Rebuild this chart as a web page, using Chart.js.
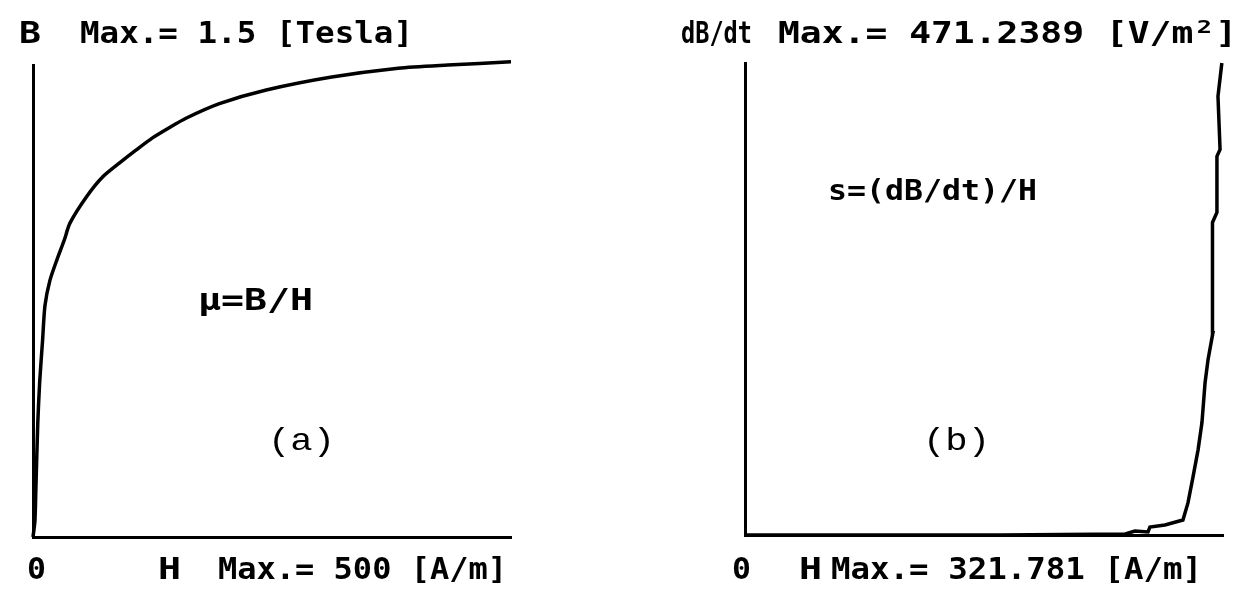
<!DOCTYPE html>
<html>
<head>
    <title>B-H curve and dB/dt</title>
    <script src="https://cdn.jsdelivr.net/npm/chart.js"></script>
    <style>
        body {
            background-color: white;
            margin: 0;
            width: 1252px;
            height: 589px;
            position: relative;
            overflow: hidden;
        }

        canvas {
            position: absolute;
            top: 0;
        }

        #chartA { left: 0; }
        #chartB { left: 626px; }
    </style>
</head>
<body>
    <canvas id="chartA" width="626" height="589"></canvas>
    <canvas id="chartB" width="626" height="589"></canvas>

    <script>
        // (a) magnetisation curve, H in A/m, B in Tesla
        const hA = [0, 2, 3, 5, 7, 10, 12.5, 17.7, 25, 33, 38.5, 56, 73, 90.6, 108, 125, 143, 160, 195, 244, 312.5, 382, 434, 500];
        const bA = [0, 0.05, 0.15, 0.36, 0.49, 0.62, 0.73, 0.81, 0.875, 0.94, 0.99, 1.074, 1.137, 1.181, 1.222, 1.26, 1.293, 1.322, 1.368, 1.411, 1.452, 1.48, 1.49, 1.5];
        const hMaxA = 500;
        const bMaxA = 1.49;

        // (b) dB/dt against H
        const hB = [0, 172, 256, 262.5, 271.3, 272.6, 282.7, 294.8, 298.2, 301.6, 305, 307.6, 309.7, 311.7, 315, 314.4, 315, 317.7, 317.7, 319.8, 318.4, 321];
        const sB = [0, 0, 1, 4, 3, 8, 10, 15, 32, 58, 85, 112, 152, 175, 202, 252, 312, 322, 378, 385, 438, 471.2];
        const hMaxB = 321.781;
        const sMaxB = 471.2389;

        const labelsA = { y: 'B', yMax: 'Max.= 1.5 [Tesla]', zero: '0', x: 'H', xMax: 'Max.= 500 [A/m]', note: 'μ=B/H', tag: '(a)' };
        const labelsB = { y: 'dB/dt', yMax: 'Max.= 471.2389 [V/m²]', zero: '0', x: 'H', xMax: 'Max.= 321.781 [A/m]', note: 's=(dB/dt)/H', tag: '(b)' };

        const monoFont = '"DejaVu Sans Mono", monospace';
        const tagFont = '"Liberation Mono", monospace';

        // draw a string squeezed or stretched to run from x0 to x1
        function drawFit(ctx, str, x0, x1, y, size, family, weight) {
            ctx.save();
            ctx.font = (weight || 'bold') + ' ' + size + 'px ' + (family || monoFont);
            const w = ctx.measureText(str).width;
            ctx.translate(x0, y);
            ctx.scale((x1 - x0) / w, 1);
            ctx.fillStyle = 'black';
            ctx.textBaseline = 'alphabetic';
            ctx.fillText(str, 0, 0);
            ctx.restore();
        }

        function textPlugin(items) {
            return {
                id: 'panelText',
                afterDraw(chart) {
                    items.forEach(t => drawFit(chart.ctx, ...t));
                }
            };
        }

        function makeChart(id, xs, ys, xMax, yMax, tension, pad, items) {
            const points = xs.map((x, i) => ({ x: x, y: ys[i] }));
            return new Chart(document.getElementById(id), {
                type: 'scatter',
                data: {
                    datasets: [{
                        data: points,
                        showLine: true,
                        borderColor: 'black',
                        borderWidth: 3.5,
                        pointRadius: 0,
                        tension: tension,
                        capBezierPoints: false,
                        clip: false
                    }]
                },
                options: {
                    responsive: false,
                    animation: false,
                    layout: { padding: pad },
                    plugins: {
                        legend: { display: false },
                        tooltip: { enabled: false }
                    },
                    scales: {
                        x: {
                            type: 'linear',
                            bounds: 'data',
                            afterDataLimits: s => { s.min = 0; s.max = xMax; },
                            grid: { display: false, drawTicks: false },
                            ticks: { display: false },
                            border: { color: 'black', width: 3 }
                        },
                        y: {
                            type: 'linear',
                            bounds: 'data',
                            afterDataLimits: s => { s.min = 0; s.max = yMax; },
                            grid: { display: false, drawTicks: false },
                            ticks: { display: false },
                            border: { color: 'black', width: 3 }
                        }
                    }
                },
                plugins: [textPlugin(items)]
            });
        }

        makeChart('chartA', hA, bA, hMaxA, bMaxA, 0.25,
            { left: 33, top: 65, right: 115, bottom: 52 },
            [
                [labelsA.y, 19, 41, 43, 31],
                [labelsA.yMax, 80, 413, 43, 31],
                [labelsA.zero, 27, 46, 579, 31],
                [labelsA.x, 158, 181, 579, 31],
                [labelsA.xMax, 218, 507, 579, 31],
                [labelsA.note, 198, 313, 310, 30],
                [labelsA.tag, 268, 335, 450, 32, tagFont, 'normal']
            ]);

        makeChart('chartB', hB, sB, hMaxB, sMaxB, 0,
            { left: 119, top: 63, right: 29, bottom: 54 },
            [
                [labelsB.y, 55, 126, 43, 31],
                [labelsB.yMax, 152, 611, 43, 31],
                [labelsB.zero, 106, 125, 579, 31],
                [labelsB.x, 173, 196, 579, 31],
                [labelsB.xMax, 205, 576, 579, 31],
                [labelsB.note, 202, 411, 200, 29],
                [labelsB.tag, 297, 364, 450, 32, tagFont, 'normal']
            ]);
    </script>
</body>
</html>
